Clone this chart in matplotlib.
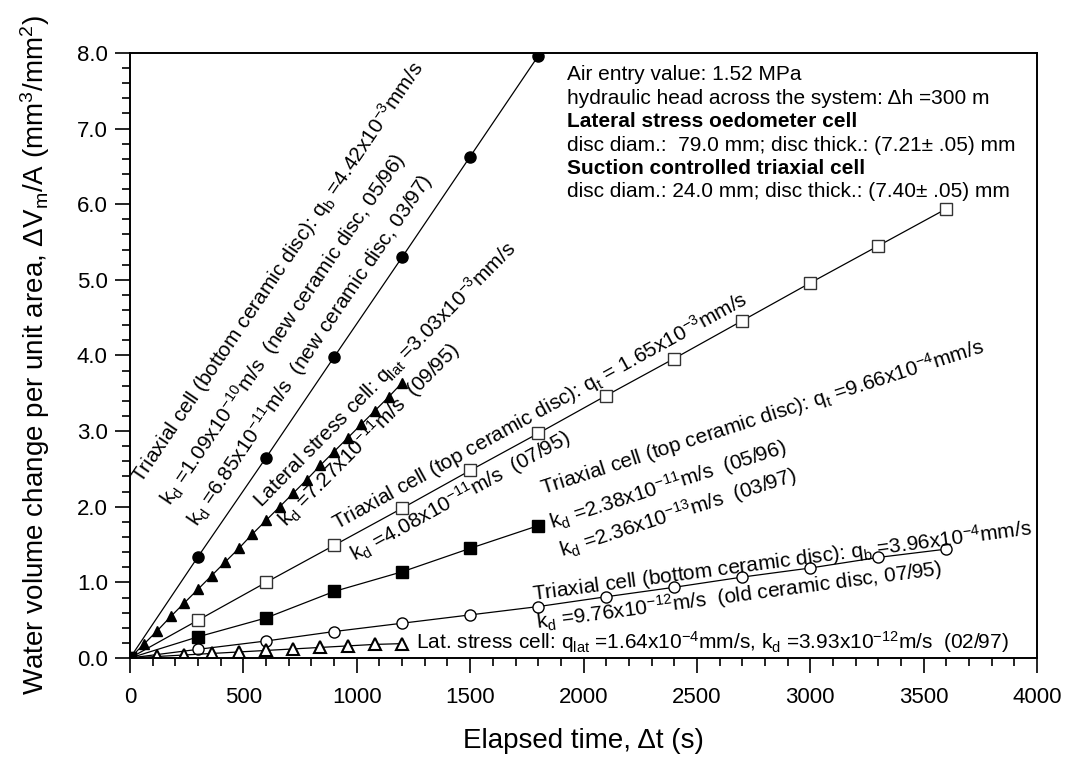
import numpy as np
import matplotlib
matplotlib.use("Agg")
import matplotlib.pyplot as plt
from matplotlib.ticker import MultipleLocator, FormatStrFormatter

plt.rcParams['font.family'] = ['Liberation Sans', 'DejaVu Sans']
plt.rcParams['mathtext.fontset'] = 'custom'
plt.rcParams['mathtext.rm'] = 'Liberation Sans'
plt.rcParams['mathtext.it'] = 'Liberation Sans:italic'
plt.rcParams['mathtext.default'] = 'regular'

# triaxial cell, bottom disc (new ceramic disc)
t_circ = [0, 300, 600, 900, 1200, 1500, 1800]
v_circ = [0, 1.34, 2.65, 3.98, 5.30, 6.63, 7.96]

# lateral stress cell (09/95)
t_tri = [0, 60, 120, 180, 240, 300, 360, 420, 480, 540, 600, 660, 720, 780,
         840, 900, 960, 1020, 1080, 1140, 1200]
v_tri = [0, 0.18, 0.36, 0.55, 0.73, 0.91, 1.09, 1.27, 1.45, 1.64, 1.82, 2.00,
         2.18, 2.36, 2.55, 2.73, 2.91, 3.09, 3.27, 3.45, 3.64]

# triaxial cell, top disc (07/95)
t_osq = [0, 300, 600, 900, 1200, 1500, 1800, 2100, 2400, 2700, 3000, 3300, 3600]
v_osq = [0, 0.50, 1.00, 1.49, 1.98, 2.48, 2.97, 3.47, 3.96, 4.46, 4.96, 5.45, 5.94]

# triaxial cell, top disc (05/96, 03/97)
t_fsq = [0, 300, 600, 900, 1200, 1500, 1800]
v_fsq = [0, 0.28, 0.53, 0.88, 1.14, 1.45, 1.75]

# triaxial cell, bottom disc (old ceramic disc)
t_ocirc = [0, 300, 600, 900, 1200, 1500, 1800, 2100, 2400, 2700, 3000, 3300, 3600]
v_ocirc = [0, 0.115, 0.225, 0.35, 0.46, 0.57, 0.68, 0.81, 0.935, 1.07, 1.19, 1.33, 1.44]

# lat. stress cell (02/97)
t_otri = [0, 120, 240, 360, 480, 600, 720, 840, 960, 1080, 1200]
v_otri = [0, 0.02, 0.04, 0.06, 0.08, 0.10, 0.12, 0.14, 0.16, 0.18, 0.19]

fig = plt.figure(figsize=(10.71, 7.6), dpi=100)
ax = fig.add_axes([0.1214, 0.1342, 0.8469, 0.7961])

lk = dict(color='black', lw=0.9)
ax.plot(t_circ, v_circ, marker='o', ms=8, mfc='black', mec='black', **lk)
ax.plot(t_tri, v_tri, marker='^', ms=7.5, mfc='black', mec='black', **lk)
ax.plot(t_osq, v_osq, marker='s', ms=8, mfc='white', mec='#333333', mew=1.0, **lk)
ax.plot(t_ocirc, v_ocirc, marker='o', ms=8, mfc='white', mec='black', mew=1.0, **lk)
ax.plot(t_otri, v_otri, marker='^', ms=8.5, mfc='white', mec='black', mew=1.5, **lk)
ax.plot(t_fsq, v_fsq, marker='s', ms=8, mfc='black', mec='black', **lk)

fs = 15
def label(t, v, slope, s):
    ax.text(t, v, s, fontsize=fs, rotation=np.degrees(np.arctan(slope)),
            transform_rotates_text=True, rotation_mode='anchor',
            ha='left', va='baseline')

label(52, 2.29, 4.42e-3, r'Triaxial cell (bottom ceramic disc): q$_b$ =4.42x10$^{-3}$mm/s')
label(180, 2.00, 4.42e-3, r'k$_d$ =1.09x10$^{-10}$m/s  (new ceramic disc, 05/96)')
label(300, 1.72, 4.42e-3, r'k$_d$ =6.85x10$^{-11}$m/s  (new ceramic disc, 03/97)')

label(581, 1.97, 3.03e-3, r'Lateral stress cell: q$_{lat}$ =3.03x10$^{-3}$mm/s')
label(692, 1.72, 3.03e-3, r'k$_d$ =7.27x10$^{-11}$m/s  (09/95)')

label(913, 1.69, 1.65e-3, r'Triaxial cell (top ceramic disc): q$_t$ = 1.65x10$^{-3}$mm/s')
label(992, 1.27, 1.65e-3, r'k$_d$ =4.08x10$^{-11}$m/s  (07/95)')

label(1823, 2.16, 9.66e-4, r'Triaxial cell (top ceramic disc): q$_t$ =9.66x10$^{-4}$mm/s')
label(1861, 1.71, 9.66e-4, r'k$_d$ =2.38x10$^{-11}$m/s  (05/96)')
label(1904, 1.33, 9.66e-4, r'k$_d$ =2.36x10$^{-13}$m/s  (03/97)')

label(1779, 0.76, 3.96e-4, r'Triaxial cell (bottom ceramic disc): q$_b$ =3.96x10$^{-4}$mm/s')
label(1796, 0.38, 3.96e-4, r'k$_d$ =9.76x10$^{-12}$m/s  (old ceramic disc, 07/95)')

label(1261, 0.12, 0, r'Lat. stress cell: q$_{lat}$ =1.64x10$^{-4}$mm/s, k$_d$ =3.93x10$^{-12}$m/s  (02/97)')

info = ['Air entry value: 1.52 MPa',
        'hydraulic head across the system: \u0394h =300 m',
        'Lateral stress oedometer cell',
        'disc diam.:  79.0 mm; disc thick.: (7.21\u00b1 .05) mm',
        'Suction controlled triaxial cell',
        'disc diam.: 24.0 mm; disc thick.: (7.40\u00b1 .05) mm']
bold = [False, False, True, False, True, False]
for i, (s, b) in enumerate(zip(info, bold)):
    ax.text(1925, 7.64 - 0.31 * i, s, fontsize=fs, ha='left', va='baseline',
            fontweight='bold' if b else 'normal')

ax.set_xlim(0, 4000)
ax.set_ylim(0, 8)
ax.xaxis.set_major_locator(MultipleLocator(500))
ax.xaxis.set_minor_locator(MultipleLocator(100))
ax.yaxis.set_major_locator(MultipleLocator(1.0))
ax.yaxis.set_minor_locator(MultipleLocator(0.2))
ax.yaxis.set_major_formatter(FormatStrFormatter('%.1f'))
ax.tick_params(which='major', direction='out', length=11, width=1.2, labelsize=16, pad=5)
ax.tick_params(axis='x', which='major', pad=10)
ax.tick_params(which='minor', direction='out', length=6, width=1.2)
for sp in ax.spines.values():
    sp.set_linewidth(1.4)

ax.set_xlabel('Elapsed time, \u0394t (s)', fontsize=20, labelpad=14)
ax.set_ylabel(r'Water volume change per unit area, $\Delta$V$_m$/A (mm$^3$/mm$^2$)',
              fontsize=20, labelpad=18)

fig.savefig('out.png', dpi=100)
